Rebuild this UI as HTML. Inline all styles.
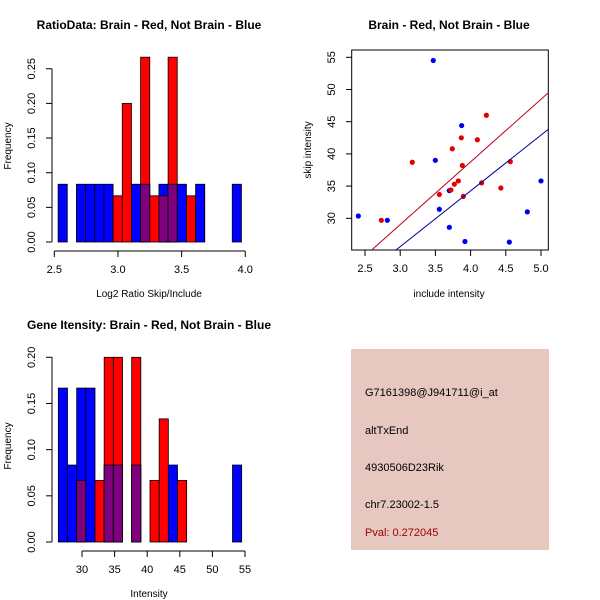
<!DOCTYPE html>
<html><head><meta charset="utf-8"><style>
body{margin:0;background:#fff}
svg{display:block;font-family:"Liberation Sans",sans-serif}
</style></head><body>
<svg id="s" width="600" height="600" viewBox="0 0 600 600" xmlns="http://www.w3.org/2000/svg">
<rect width="600" height="600" fill="#fff"/>
<g id="p1"></g>
<g id="p2"></g>
<g id="p3"></g>
<g>
<rect x="351" y="349" width="198" height="201" fill="#e6c8c1"/>
<text x="365" y="396" font-size="11">G7161398@J941711@i_at</text>
<text x="365" y="434" font-size="11">altTxEnd</text>
<text x="365" y="471" font-size="11">4930506D23Rik</text>
<text x="365" y="508" font-size="11">chr7.23002-1.5</text>
<text x="365" y="536" font-size="11" fill="#a00000">Pval: 0.272045</text>
</g>
</svg>
<script>
// Ratio histogram data (frequency per bin)
const ratioBinStart = 2.53;
const ratioBinWidth = 0.072;
const ratioBlue = [1/12,0,1/12,1/12,1/12,1/12,0,0,1/12,1/12,0,1/12,1/12,1/12,0,1/12,0,0,0,1/12];
const ratioRed  = [0,0,0,0,0,0,1/15,3/15,0,4/15,1/15,1/15,4/15,0,1/15,0,0,0,0,0];
const ratioXTicks = [2.5,3.0,3.5,4.0];
const ratioYTicks = [0,0.05,0.10,0.15,0.20,0.25];
// Intensity histogram data
const intBinStart = 26.37;
const intBinWidth = 1.406;
const intBlue = [2/12,1/12,2/12,2/12,0,1/12,1/12,0,1/12,0,0,0,1/12,0,0,0,0,0,0,1/12];
const intRed  = [0,0,1/15,0,1/15,3/15,3/15,0,3/15,0,1/15,2/15,0,1/15,0,0,0,0,0,0];
const intXTicks = [30,35,40,45,50,55];
const intYTicks = [0,0.05,0.10,0.15,0.20];
// Scatter data
const blueX = [2.405,2.817,3.47,3.499,3.873,3.556,3.698,3.698,3.92,4.55,4.806,5.0];
const blueY = [30.36,29.69,54.5,39.0,44.4,31.4,34.3,28.6,26.4,26.3,31.0,35.8];
const redX = [2.732,3.172,3.556,3.74,3.769,3.826,3.868,3.883,3.897,4.096,4.157,4.224,4.43,4.564,3.72];
const redY = [29.69,38.7,33.7,40.8,35.3,35.8,42.5,38.2,33.4,42.2,35.5,46.0,34.7,38.8,34.4];
const redLine = [2.595,25.08,5.104,49.5];
const blueLine = [2.94,25.08,5.104,43.82];
const scXTicks = [2.5,3.0,3.5,4.0,4.5,5.0];
const scYTicks = [30,35,40,45,50,55];

const NS="http://www.w3.org/2000/svg";
function mk(p,tag,a,txt){const e=document.createElementNS(NS,tag);for(const k in a)e.setAttribute(k,a[k]);if(txt!==undefined)e.textContent=txt;p.appendChild(e);return e;}
function fmt(v,d){return v.toFixed(d);}

function hist(g,o){
  const sx=v=>o.x0+(v-o.xa)*o.kx, sy=v=>o.y0-v*o.ky;
  const n=o.blue.length;
  for(let i=0;i<n;i++){
    const a=sx(o.start+i*o.w), b=sx(o.start+(i+1)*o.w);
    const bv=o.blue[i], rv=o.red[i];
    if(bv>0){const r=mk(g,'rect',{x:a,y:sy(bv),width:b-a,height:sy(0)-sy(bv),fill:'#0000ff',stroke:'#000','stroke-width':0.8});
      
      }
    if(rv>0){const r=mk(g,'rect',{x:a,y:sy(rv),width:b-a,height:sy(0)-sy(rv),fill:'#ff0000',stroke:'#000','stroke-width':0.8});
      
      }
    const m=Math.min(bv,rv);
    if(m>0){const r=mk(g,'rect',{x:a,y:sy(m),width:b-a,height:sy(0)-sy(m),fill:'#7f007f',stroke:'#000','stroke-width':0.8});
      
      }
  }
  const yt=o.yt;
  mk(g,'line',{x1:o.yAxX,x2:o.yAxX,y1:sy(yt[0]),y2:sy(yt[yt.length-1]),stroke:'#000'});
  yt.forEach(v=>{mk(g,'line',{x1:o.yAxX-6,x2:o.yAxX,y1:sy(v),y2:sy(v),stroke:'#000'});
    const lx=o.yAxX-17;
    const t=mk(g,'text',{x:lx,y:sy(v),'font-size':11,'text-anchor':'middle',transform:`rotate(-90 ${lx} ${sy(v)})`},fmt(v,2));
    
    });
  const xt=o.xt;
  mk(g,'line',{x1:sx(xt[0]),x2:sx(xt[xt.length-1]),y1:o.xAxY,y2:o.xAxY,stroke:'#000'});
  xt.forEach(v=>{mk(g,'line',{x1:sx(v),x2:sx(v),y1:o.xAxY,y2:o.xAxY+6,stroke:'#000'});
    const t=mk(g,'text',{x:sx(v),y:o.xAxY+22,'font-size':11,'text-anchor':'middle'},fmt(v,o.xd));
    
    });
  const xl=mk(g,'text',{x:o.xlX,y:o.xAxY+46,'font-size':10,'text-anchor':'middle'},o.xl);
  
  
  const yl=mk(g,'text',{x:11,y:o.ylY,'font-size':10,'text-anchor':'middle',transform:`rotate(-90 11 ${o.ylY})`},'Frequency');
  
  
  const ti=mk(g,'text',{x:o.tX,y:o.tY,'font-size':12,'font-weight':'bold','text-anchor':'middle'},o.title);
  
  
}
hist(document.getElementById('p1'),{x0:54.3,xa:2.5,kx:127.3,y0:242,ky:693,start:ratioBinStart,w:ratioBinWidth,blue:ratioBlue,red:ratioRed,
  yt:ratioYTicks,xt:ratioXTicks,yAxX:52,xAxY:251,xd:1,xl:'Log2 Ratio Skip/Include',xlX:149,ylY:146,title:'RatioData: Brain - Red, Not Brain - Blue',tX:149,tY:29});
hist(document.getElementById('p3'),{x0:82,xa:30,kx:6.52,y0:542,ky:923.5,start:intBinStart,w:intBinWidth,blue:intBlue,red:intRed,
  yt:intYTicks,xt:intXTicks,yAxX:52,xAxY:551,xd:0,xl:'Intensity',xlX:149,ylY:446,title:'Gene Itensity: Brain - Red, Not Brain - Blue',tX:149,tY:329});

(function(){
  const g=document.getElementById('p2');
  const sx=v=>365+(v-2.5)*70.4, sy=v=>218.3-(v-30)*6.44;
  mk(g,'rect',{x:351.7,y:50,width:196.6,height:200,fill:'none',stroke:'#000'});
  const defs=mk(g,'defs',{});
  const cp=mk(defs,'clipPath',{id:'cp'});
  mk(cp,'rect',{x:351.7,y:50,width:196.6,height:200});
  blueX.forEach((x,i)=>{const c=mk(g,'circle',{cx:sx(x),cy:sy(blueY[i]),r:2.6,fill:'#0000ee'});
    
    });
  redX.forEach((x,i)=>{const c=mk(g,'circle',{cx:sx(x),cy:sy(redY[i]),r:2.6,fill:'#e00000'});
    
    });
  const l1=mk(g,'line',{x1:sx(redLine[0]),y1:sy(redLine[1]),x2:sx(redLine[2]),y2:sy(redLine[3]),stroke:'#c00020','clip-path':'url(#cp)'});
  
  
  const l2=mk(g,'line',{x1:sx(blueLine[0]),y1:sy(blueLine[1]),x2:sx(blueLine[2]),y2:sy(blueLine[3]),stroke:'#0000a0','clip-path':'url(#cp)'});
  
  
  scXTicks.forEach(v=>{mk(g,'line',{x1:sx(v),x2:sx(v),y1:250,y2:256,stroke:'#000'});
    const t=mk(g,'text',{x:sx(v),y:272,'font-size':11,'text-anchor':'middle'},fmt(v,1));
    
    });
  scYTicks.forEach(v=>{mk(g,'line',{x1:346,x2:351.7,y1:sy(v),y2:sy(v),stroke:'#000'});
    const t=mk(g,'text',{x:335,y:sy(v),'font-size':11,'text-anchor':'middle',transform:`rotate(-90 335 ${sy(v)})`},String(v));
    
    });
  const xl=mk(g,'text',{x:449,y:297,'font-size':10,'text-anchor':'middle'},'include intensity');
  
  
  const yl=mk(g,'text',{x:311,y:150,'font-size':10,'text-anchor':'middle',transform:'rotate(-90 311 150)'},'skip intensity');
  
  
  const ti=mk(g,'text',{x:449,y:29,'font-size':12,'font-weight':'bold','text-anchor':'middle'},'Brain - Red, Not Brain - Blue');
  
  
})();
</script>
</body></html>
